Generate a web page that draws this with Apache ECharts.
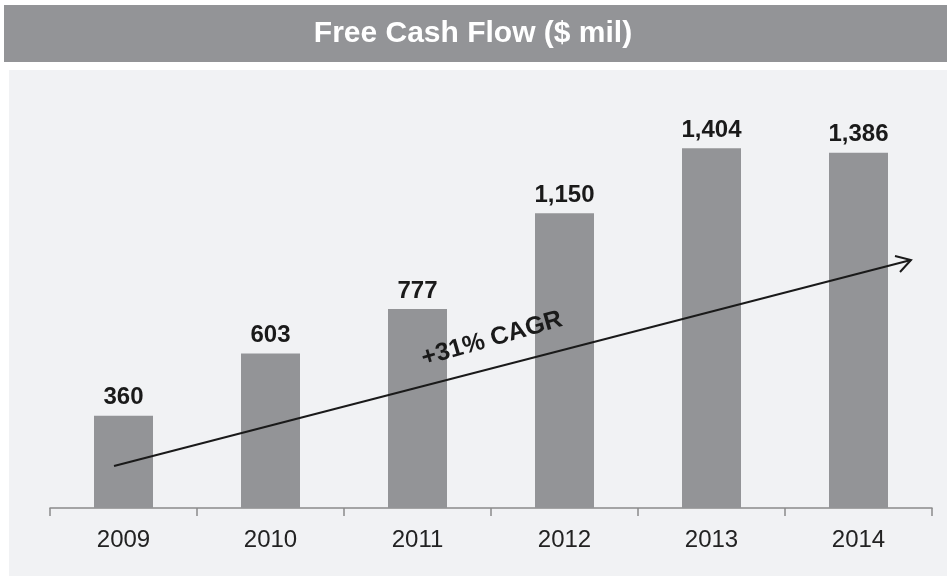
<!DOCTYPE html>
<html>
<head>
<meta charset="utf-8">
<script src="https://cdn.jsdelivr.net/npm/echarts@6/dist/echarts.min.js"></script>
<style>
  html, body { margin: 0; padding: 0; background: #fff; }
  #chart { width: 947px; height: 576px; }
</style>
</head>
<body>
<div id="chart"></div>
<script>
// data
const years = ['2009', '2010', '2011', '2012', '2013', '2014'];
const freeCashFlow = [360, 603, 777, 1150, 1404, 1386];
const cagrLabel = '+31% CAGR';

const chart = echarts.init(document.getElementById('chart'));

const option = {
  animation: false,
  graphic: [
    // title bar
    { type: 'rect', shape: { x: 4, y: 5, width: 943, height: 57 }, style: { fill: '#939497' }, z: -10 },
    {
      type: 'text', x: 473, y: 34,
      style: { text: 'Free Cash Flow ($ mil)', fill: '#fff', font: 'bold 30px "Liberation Sans", Arial, sans-serif', align: 'center', verticalAlign: 'middle' }
    },
    // plot background
    { type: 'rect', shape: { x: 9, y: 70, width: 938, height: 506 }, style: { fill: '#f1f2f4' }, z: -10 },
    // trend arrow
    { type: 'line', shape: { x1: 114, y1: 466, x2: 911, y2: 260 }, style: { stroke: '#1a1a1a', lineWidth: 2 }, z: 10 },
    { type: 'polyline', shape: { points: [[895, 256], [911, 260], [900, 272]] }, style: { stroke: '#1a1a1a', lineWidth: 2, fill: null }, z: 10 },
    {
      type: 'text', x: 492, y: 339, rotation: 16 * Math.PI / 180, z: 10,
      style: { text: cagrLabel, fill: '#1a1a1a', font: 'bold 25px "Liberation Sans", Arial, sans-serif', align: 'center', verticalAlign: 'middle' }
    }
  ],
  grid: { left: 50, right: 15, top: 98, bottom: 68 },
  xAxis: {
    type: 'category',
    data: years,
    axisLine: { lineStyle: { color: '#8a8a8a', width: 1.5 } },
    axisTick: { show: true, length: 8, lineStyle: { color: '#8a8a8a', width: 1.5 } },
    axisLabel: { color: '#222', fontSize: 24, margin: 20, fontFamily: 'Liberation Sans, Arial, sans-serif' }
  },
  yAxis: {
    type: 'value', min: 0, max: 1600,
    show: false,
    splitLine: { show: false }
  },
  series: [{
    type: 'bar',
    data: freeCashFlow,
    barWidth: 59,
    itemStyle: { color: '#939497' },
    label: {
      show: true, position: 'top', distance: 6,
      color: '#1a1a1a', fontSize: 24, fontWeight: 'bold',
      fontFamily: 'Liberation Sans, Arial, sans-serif',
      formatter: p => p.value.toLocaleString('en-US')
    }
  }]
};

chart.setOption(option);
</script>
</body>
</html>
